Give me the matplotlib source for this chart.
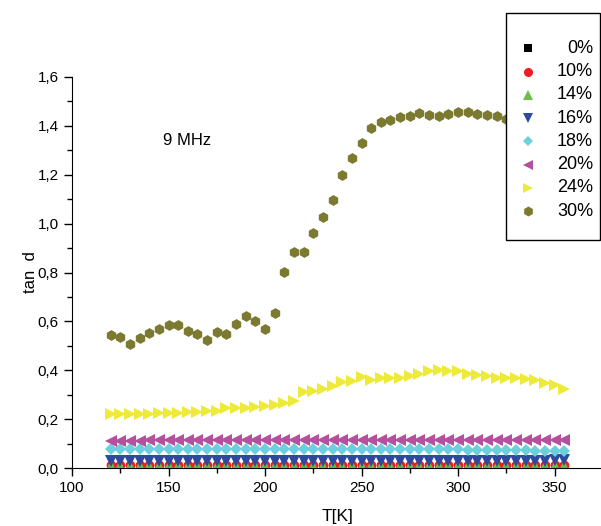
import matplotlib
matplotlib.use('Agg')
import matplotlib.pyplot as plt
from matplotlib.ticker import MultipleLocator, FuncFormatter
from matplotlib.lines import Line2D
from matplotlib.patches import Rectangle

plt.rcParams['font.family'] = ['Liberation Sans', 'DejaVu Sans']

# temperature grid [K]
T = [120, 125, 130, 135, 140, 145, 150, 155, 160, 165, 170, 175,
     180, 185, 190, 195, 200, 205, 210, 215, 220, 225, 230, 235,
     240, 245, 250, 255, 260, 265, 270, 275, 280, 285, 290, 295,
     300, 305, 310, 315, 320, 325, 330, 335, 340, 345, 350, 355]

tan_0 = [0.004] * 48
tan_10 = [0.012] * 48
tan_14 = [0.008] * 48
tan_16 = [0.027, 0.027, 0.027, 0.027, 0.027, 0.027, 0.027, 0.027, 0.027, 0.027, 0.027, 0.027,
          0.027, 0.027, 0.027, 0.027, 0.027, 0.027, 0.027, 0.027, 0.027, 0.027, 0.027, 0.027,
          0.027, 0.027, 0.027, 0.027, 0.027, 0.028, 0.028, 0.028, 0.028, 0.028, 0.028, 0.028,
          0.028, 0.028, 0.028, 0.028, 0.028, 0.028, 0.028, 0.029, 0.029, 0.030, 0.031, 0.034]
tan_18 = [0.078, 0.078, 0.078, 0.078, 0.078, 0.078, 0.078, 0.078, 0.078, 0.078, 0.078, 0.078,
          0.078, 0.078, 0.078, 0.078, 0.078, 0.078, 0.078, 0.078, 0.078, 0.078, 0.078, 0.078,
          0.078, 0.078, 0.078, 0.077, 0.077, 0.077, 0.077, 0.077, 0.077, 0.077, 0.076, 0.076,
          0.076, 0.075, 0.075, 0.075, 0.074, 0.074, 0.073, 0.072, 0.071, 0.070, 0.069, 0.068]
tan_20 = [0.112, 0.112, 0.112, 0.112, 0.113, 0.113, 0.113, 0.113, 0.113, 0.113, 0.114, 0.114,
          0.114, 0.114, 0.114, 0.114, 0.115, 0.115, 0.115, 0.115, 0.115, 0.116, 0.116, 0.116,
          0.116, 0.116, 0.116, 0.116, 0.116, 0.116, 0.116, 0.116, 0.116, 0.116, 0.116, 0.115,
          0.115, 0.115, 0.115, 0.115, 0.115, 0.115, 0.115, 0.114, 0.114, 0.114, 0.114, 0.114]
tan_24 = [0.223, 0.223, 0.223, 0.223, 0.223, 0.224, 0.227, 0.227, 0.230, 0.231, 0.234, 0.234,
          0.245, 0.247, 0.247, 0.250, 0.254, 0.258, 0.264, 0.275, 0.312, 0.316, 0.325, 0.336,
          0.353, 0.354, 0.373, 0.360, 0.368, 0.368, 0.368, 0.376, 0.384, 0.398, 0.401, 0.398,
          0.395, 0.384, 0.380, 0.375, 0.370, 0.368, 0.368, 0.364, 0.361, 0.347, 0.339, 0.323]
tan_30 = [0.546, 0.538, 0.509, 0.530, 0.553, 0.570, 0.586, 0.586, 0.560, 0.550, 0.525, 0.555,
          0.550, 0.590, 0.623, 0.603, 0.570, 0.636, 0.804, 0.883, 0.883, 0.963, 1.027, 1.095,
          1.199, 1.270, 1.330, 1.392, 1.414, 1.424, 1.437, 1.441, 1.451, 1.444, 1.441, 1.448,
          1.455, 1.458, 1.448, 1.444, 1.441, 1.427, 1.420, 1.410, 1.400, 1.400, 1.390, 1.380]

labels = ['0%', '10%', '14%', '16%', '18%', '20%', '24%', '30%']
series = [tan_0, tan_10, tan_14, tan_16, tan_18, tan_20, tan_24, tan_30]
markers = ['s', 'o', '^', 'v', 'D', '<', '>', 'h']
colors = ['#000000', '#ee1c24', '#6abd45', '#2e4a9e', '#6dcfdb', '#b5509f', '#eeea3a', '#7b7a30']
msizes = [6.2, 7.0, 8.3, 8.3, 6.3, 8.3, 8.3, 7.8]
leg_sizes = [5.8, 6.5, 7.2, 7.2, 5.4, 7.2, 7.2, 7.2]

fig = plt.figure(figsize=(6.01, 5.26), dpi=100)
ax = fig.add_axes([72 / 601, 58 / 526, 530.75 / 601, 391 / 526])

for y, m, c, s in zip(series, markers, colors, msizes):
    ax.plot(T, y, linestyle='none', marker=m, color=c, markersize=s, markeredgewidth=0)

ax.set_xlim(100, 375)
ax.set_ylim(0, 1.6)
ax.spines['top'].set_visible(False)
ax.spines['right'].set_visible(False)
ax.xaxis.set_major_locator(MultipleLocator(50))
ax.xaxis.set_minor_locator(MultipleLocator(25))
ax.yaxis.set_major_locator(MultipleLocator(0.2))
ax.yaxis.set_minor_locator(MultipleLocator(0.1))
ax.yaxis.set_major_formatter(FuncFormatter(lambda v, p: ('%.1f' % v).replace('.', ',')))
ax.tick_params(which='major', direction='out', length=6, width=1, labelsize=11)
ax.tick_params(which='minor', direction='out', length=3.5, width=1)
ax.set_xlabel('T[K]', fontsize=12.5, labelpad=10)
ax.set_ylabel('tan  d', fontsize=12, labelpad=0)
ax.text(147, 1.34, '9 MHz', fontsize=12, va='center')

# legend box, drawn by hand so the labels can sit right-aligned
box = Rectangle((506 / 601, 1 - 240 / 526), 94 / 601, 227 / 526, transform=fig.transFigure,
                facecolor='white', edgecolor='black', linewidth=1, zorder=5)
fig.add_artist(box)
for i, (lab, m, c, s) in enumerate(zip(labels, markers, colors, leg_sizes)):
    yf = 1 - (48.3 + i * 23.25) / 526
    fig.add_artist(Line2D([528 / 601], [yf], transform=fig.transFigure, linestyle='none',
                          marker=m, color=c, markersize=s, markeredgewidth=0, zorder=6))
    fig.text(593 / 601, yf, lab, ha='right', va='center', fontsize=13, zorder=6)

fig.savefig('out.png', dpi=100)
